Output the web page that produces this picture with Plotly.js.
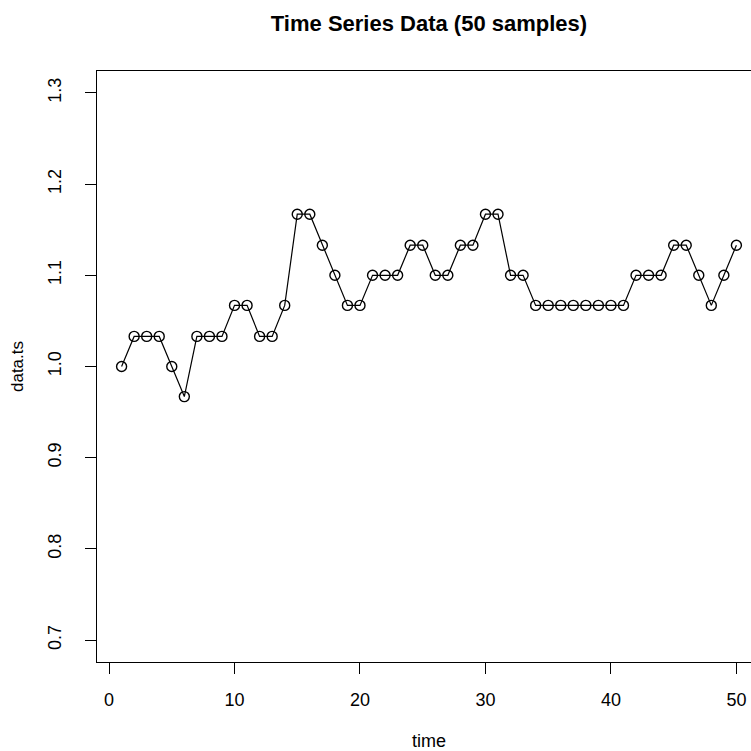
<!DOCTYPE html>
<html>
<head>
<meta charset="utf-8">
<script src="https://cdn.plot.ly/plotly-3.0.1.min.js"></script>
<style>
html,body{margin:0;padding:0;background:#fff;overflow:hidden;width:751px;height:751px;}
#chart{width:761px;height:751px;}
</style>
</head>
<body>
<div id="chart"></div>
<script>
const time = [1,2,3,4,5,6,7,8,9,10,11,12,13,14,15,16,17,18,19,20,21,22,23,24,25,26,27,28,29,30,31,32,33,34,35,36,37,38,39,40,41,42,43,44,45,46,47,48,49,50];
const dataTs = [1.000,1.033,1.033,1.033,1.000,0.967,1.033,1.033,1.033,1.067,
                1.067,1.033,1.033,1.067,1.167,1.167,1.133,1.100,1.067,1.067,
                1.100,1.100,1.100,1.133,1.133,1.100,1.100,1.133,1.133,1.167,
                1.167,1.100,1.100,1.067,1.067,1.067,1.067,1.067,1.067,1.067,
                1.067,1.100,1.100,1.100,1.133,1.133,1.100,1.067,1.100,1.133];
const xTicks = [0,10,20,30,40,50];
const yTicks = [0.7,0.8,0.9,1.0,1.1,1.2,1.3];
const yTickLabels = ["0.7","0.8","0.9","1.0","1.1","1.2","1.3"];

const font = "Liberation Sans, Arial, Helvetica, sans-serif";

Plotly.newPlot('chart', [{
  x: time, y: dataTs, type: 'scatter', mode: 'lines+markers',
  line: {color: '#000', width: 1.2},
  marker: {symbol: 'circle-open', size: 10, color: '#000', line: {width: 1.4, color: '#000'}},
  hoverinfo: 'skip'
}], {
  width: 761, height: 751,
  margin: {l: 97, r: 0, t: 71, b: 89},
  paper_bgcolor: '#fff', plot_bgcolor: '#fff',
  showlegend: false,
  title: {text: '<b>Time Series Data (50 samples)</b>', font: {family: font, size: 22, color: '#000'},
          xref: 'paper', x: 0.5, xanchor: 'center', yref: 'container', y: 1 - 23/751, yanchor: 'middle'},
  xaxis: {range: [-0.96, 51.96], tickvals: xTicks, ticktext: xTicks.map(String),
          showgrid: false, zeroline: false, showline: true, mirror: true, linecolor: '#000', linewidth: 1,
          ticks: 'outside', ticklen: 11, tickwidth: 1, tickcolor: '#000', ticklabelstandoff: 10,
          tickfont: {family: font, size: 18, color: '#000'},
          title: {text: 'time', font: {family: font, size: 18, color: '#000'}, standoff: 30}},
  yaxis: {range: [0.676, 1.324], tickvals: yTicks, ticktext: yTickLabels, tickangle: -90,
          showgrid: false, zeroline: false, showline: true, mirror: true, linecolor: '#000', linewidth: 1,
          ticks: 'outside', ticklen: 11, tickwidth: 1, tickcolor: '#000', ticklabelstandoff: 17,
          tickfont: {family: font, size: 18, color: '#000'},
          title: {text: 'data.ts', font: {family: font, size: 17, color: '#000'}, standoff: 16}}
}, {displayModeBar: false, staticPlot: true});
</script>
</body>
</html>
